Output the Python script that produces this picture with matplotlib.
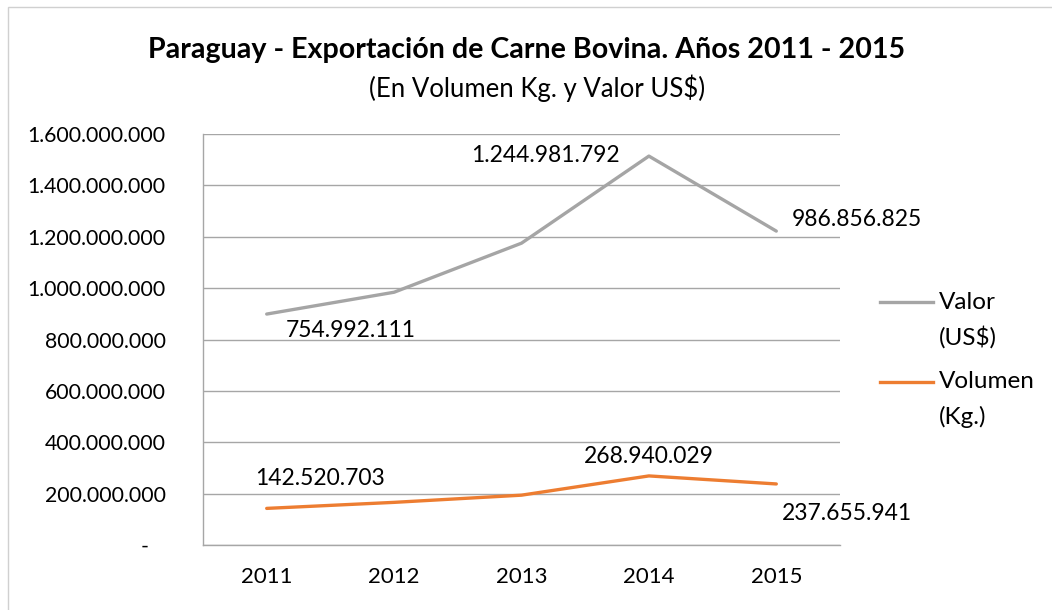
import matplotlib
matplotlib.use("Agg")
import matplotlib.pyplot as plt
from matplotlib.lines import Line2D
from matplotlib.patches import Rectangle
from matplotlib.ticker import FuncFormatter, MultipleLocator

plt.rcParams['font.family'] = ['Lato', 'DejaVu Sans']

# Data
years = ['2011', '2012', '2013', '2014', '2015']
valor = [899e6, 984e6, 1175e6, 1514e6, 1222e6]
volumen = [142520703, 166e6, 194e6, 268940029, 237655941]

# data labels as printed on the chart (only some points are labelled)
valor_labels = {0: '754.992.111', 3: '1.244.981.792', 4: '986.856.825'}
volumen_labels = {0: '142.520.703', 3: '268.940.029', 4: '237.655.941'}

gray = '#a5a5a5'
orange = '#ed7d31'
grid_c = '#a6a6a6'
tick_fs = 15.3
lab_fs = 16.5
leg_fs = 17.5

fig = plt.figure(figsize=(10.52, 6.10), dpi=100)
ax = fig.add_axes([203 / 1052, 65 / 610, 637 / 1052, 411 / 610])

x = list(range(len(years)))
ax.plot(x, valor, color=gray, lw=2.4, solid_capstyle='round')
ax.plot(x, volumen, color=orange, lw=2.4, solid_capstyle='round')

ax.set_xlim(-0.5, len(years) - 0.5)
ax.set_ylim(0, 1.6e9)
ax.yaxis.set_major_locator(MultipleLocator(2e8))


def fmt(v, pos):
    if v == 0:
        return '-   '
    return f'{int(v):,}'.replace(',', '.')


ax.yaxis.set_major_formatter(FuncFormatter(fmt))
ax.set_xticks(x)
ax.set_xticklabels(years)
ax.tick_params(axis='both', length=0, labelsize=tick_fs, colors='black')
ax.tick_params(axis='x', labelsize=16)
ax.tick_params(axis='y', pad=27)
ax.tick_params(axis='x', pad=16)
ax.grid(axis='y', color=grid_c, lw=1)
ax.set_axisbelow(True)
for s in ['top', 'right']:
    ax.spines[s].set_visible(False)
for s in ['left', 'bottom']:
    ax.spines[s].set_color(grid_c)
    ax.spines[s].set_linewidth(1)

# data labels (offsets in pixels)
v_off = {0: (84, -16), 3: (-103, 1), 4: (81, 12)}
k_off = {0: (53, 30), 3: (0, 19), 4: (71, -30)}
for i, txt in valor_labels.items():
    ax.annotate(txt, (x[i], valor[i]), xytext=v_off[i], textcoords='offset pixels',
                ha='center', va='center', fontsize=lab_fs)
for i, txt in volumen_labels.items():
    ax.annotate(txt, (x[i], volumen[i]), xytext=k_off[i], textcoords='offset pixels',
                ha='center', va='center', fontsize=lab_fs)

# titles
fig.text(527 / 1052, 1 - 50 / 610, 'Paraguay - Exportación de Carne Bovina. Años 2011 - 2015',
         ha='center', va='center', fontsize=20.6, fontweight='bold')
fig.text(537 / 1052, 1 - 88 / 610, '(En Volumen Kg. y Valor US$)',
         ha='center', va='center', fontsize=18.5)

# legend drawn by hand, handle aligned with first line
for y0, col, l1, l2 in [(302, gray, 'Valor', '(US$)'), (382, orange, 'Volumen', '(Kg.)')]:
    fig.add_artist(Line2D([880 / 1052, 933 / 1052], [1 - y0 / 610, 1 - y0 / 610],
                          color=col, lw=2.4, transform=fig.transFigure))
    fig.text(939 / 1052, 1 - y0 / 610, l1, ha='left', va='center', fontsize=leg_fs)
    fig.text(939 / 1052, 1 - (y0 + 35) / 610, l2, ha='left', va='center', fontsize=leg_fs)

# outer chart border
fig.add_artist(Rectangle((8 / 1052, -0.01), 1.0, 1 - 7 / 610 + 0.01, fill=False,
                         edgecolor='#d0d0d0', lw=1, transform=fig.transFigure))

fig.savefig('out.png', dpi=100)
